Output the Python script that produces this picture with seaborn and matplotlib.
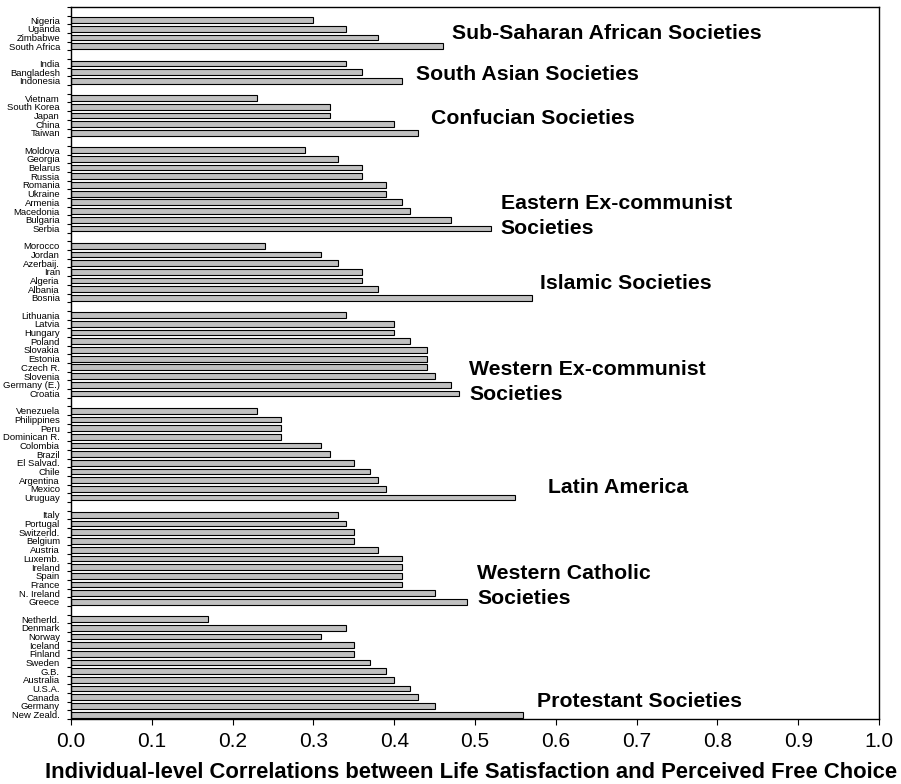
import numpy as np
import pandas as pd
import matplotlib
matplotlib.use("Agg")
import matplotlib.pyplot as plt
import seaborn as sns
from matplotlib.ticker import FixedLocator

# group titles, one per block of countries (top to bottom)
groups = [
    "Sub-Saharan African Societies",
    "South Asian Societies",
    "Confucian Societies",
    "Eastern Ex-communist\nSocieties",
    "Islamic Societies",
    "Western Ex-communist\nSocieties",
    "Latin America",
    "Western Catholic\nSocieties",
    "Protestant Societies",
]
group_sizes = [4, 3, 5, 10, 7, 10, 11, 11, 12]

countries = [
    "Nigeria", "Uganda", "Zimbabwe", "South Africa",
    "India", "Bangladesh", "Indonesia",
    "Vietnam", "South Korea", "Japan", "China", "Taiwan",
    "Moldova", "Georgia", "Belarus", "Russia", "Romania", "Ukraine",
    "Armenia", "Macedonia", "Bulgaria", "Serbia",
    "Morocco", "Jordan", "Azerbaij.", "Iran", "Algeria", "Albania", "Bosnia",
    "Lithuania", "Latvia", "Hungary", "Poland", "Slovakia", "Estonia",
    "Czech R.", "Slovenia", "Germany (E.)", "Croatia",
    "Venezuela", "Philippines", "Peru", "Dominican R.", "Colombia", "Brazil",
    "El Salvad.", "Chile", "Argentina", "Mexico", "Uruguay",
    "Italy", "Portugal", "Switzerld.", "Belgium", "Austria", "Luxemb.",
    "Ireland", "Spain", "France", "N. Ireland", "Greece",
    "Netherld.", "Denmark", "Norway", "Iceland", "Finland", "Sweden", "G.B.",
    "Australia", "U.S.A.", "Canada", "Germany", "New Zeald.",
]
corr = [
    0.30, 0.34, 0.38, 0.46,
    0.34, 0.36, 0.41,
    0.23, 0.32, 0.32, 0.40, 0.43,
    0.29, 0.33, 0.36, 0.36, 0.39, 0.39, 0.41, 0.42, 0.47, 0.52,
    0.24, 0.31, 0.33, 0.36, 0.36, 0.38, 0.57,
    0.34, 0.40, 0.40, 0.42, 0.44, 0.44, 0.44, 0.45, 0.47, 0.48,
    0.23, 0.26, 0.26, 0.26, 0.31, 0.32, 0.35, 0.37, 0.38, 0.39, 0.55,
    0.33, 0.34, 0.35, 0.35, 0.38, 0.41, 0.41, 0.41, 0.41, 0.45, 0.49,
    0.17, 0.34, 0.31, 0.35, 0.35, 0.37, 0.39, 0.40, 0.42, 0.43, 0.45, 0.56,
]

# slot positions: one empty slot before every group
pos = []
slot = 0
for n in group_sizes:
    slot += 1
    pos.extend(range(slot, slot + n))
    slot += n
n_slots = slot

df = pd.DataFrame({"country": countries, "corr": corr, "pos": pos})

sns.set_style("white")
plt.rcParams["font.family"] = ["Liberation Sans", "DejaVu Sans"]
plt.rcParams["text.color"] = "black"
plt.rcParams["xtick.color"] = "black"
plt.rcParams["ytick.color"] = "black"
plt.rcParams["axes.labelcolor"] = "black"

fig = plt.figure(figsize=(9.01, 7.84), dpi=100)
ax = fig.add_axes([0.0788, 0.0829, 0.8968, 0.9082])

sns.barplot(data=df, x="corr", y="pos", orient="h", native_scale=True,
            color="#c0c0c0", edgecolor="black", linewidth=0.8,
            width=0.66, saturation=1, ax=ax)

ax.set_xlim(0, 1.0)
ax.set_ylim(n_slots - 0.5, -0.5)
ax.set_xticks(np.arange(0, 1.01, 0.1))
ax.set_xticklabels([f"{v:.1f}" for v in np.arange(0, 1.01, 0.1)], fontsize=15)
ax.set_yticks(pos)
ax.set_yticklabels(countries, fontsize=6.8)
ax.yaxis.set_minor_locator(FixedLocator(np.arange(-0.5, n_slots, 1)))
ax.tick_params(axis="y", which="major", length=0, pad=8)
ax.tick_params(axis="y", which="minor", length=3, width=0.8, direction="out", left=True)
ax.tick_params(axis="x", which="major", length=4, width=0.8, direction="out", bottom=True, pad=5)
ax.set_ylabel("")
ax.set_xlabel("")
fig.text(471.5 / 901, 1 - 772 / 784,
         "Individual-level Correlations between Life Satisfaction and Perceived Free Choice",
         fontsize=15.8, fontweight="bold", ha="center", va="center")
for sp in ax.spines.values():
    sp.set_color("black")
    sp.set_linewidth(1.0)

# group titles, placed beside each block (data coords)
label_x = [0.472, 0.427, 0.446, 0.532, 0.580, 0.493, 0.590, 0.503, 0.577]
label_y = [2.6, 7.3, 12.3, 23.6, 31.4, 42.7, 54.8, 66.2, 79.5]
for g, gx, gy in zip(groups, label_x, label_y):
    ax.text(gx, gy, g, fontsize=15.3, fontweight="bold",
            va="center", ha="left", linespacing=1.42)

fig.savefig("out.png", dpi=100)
